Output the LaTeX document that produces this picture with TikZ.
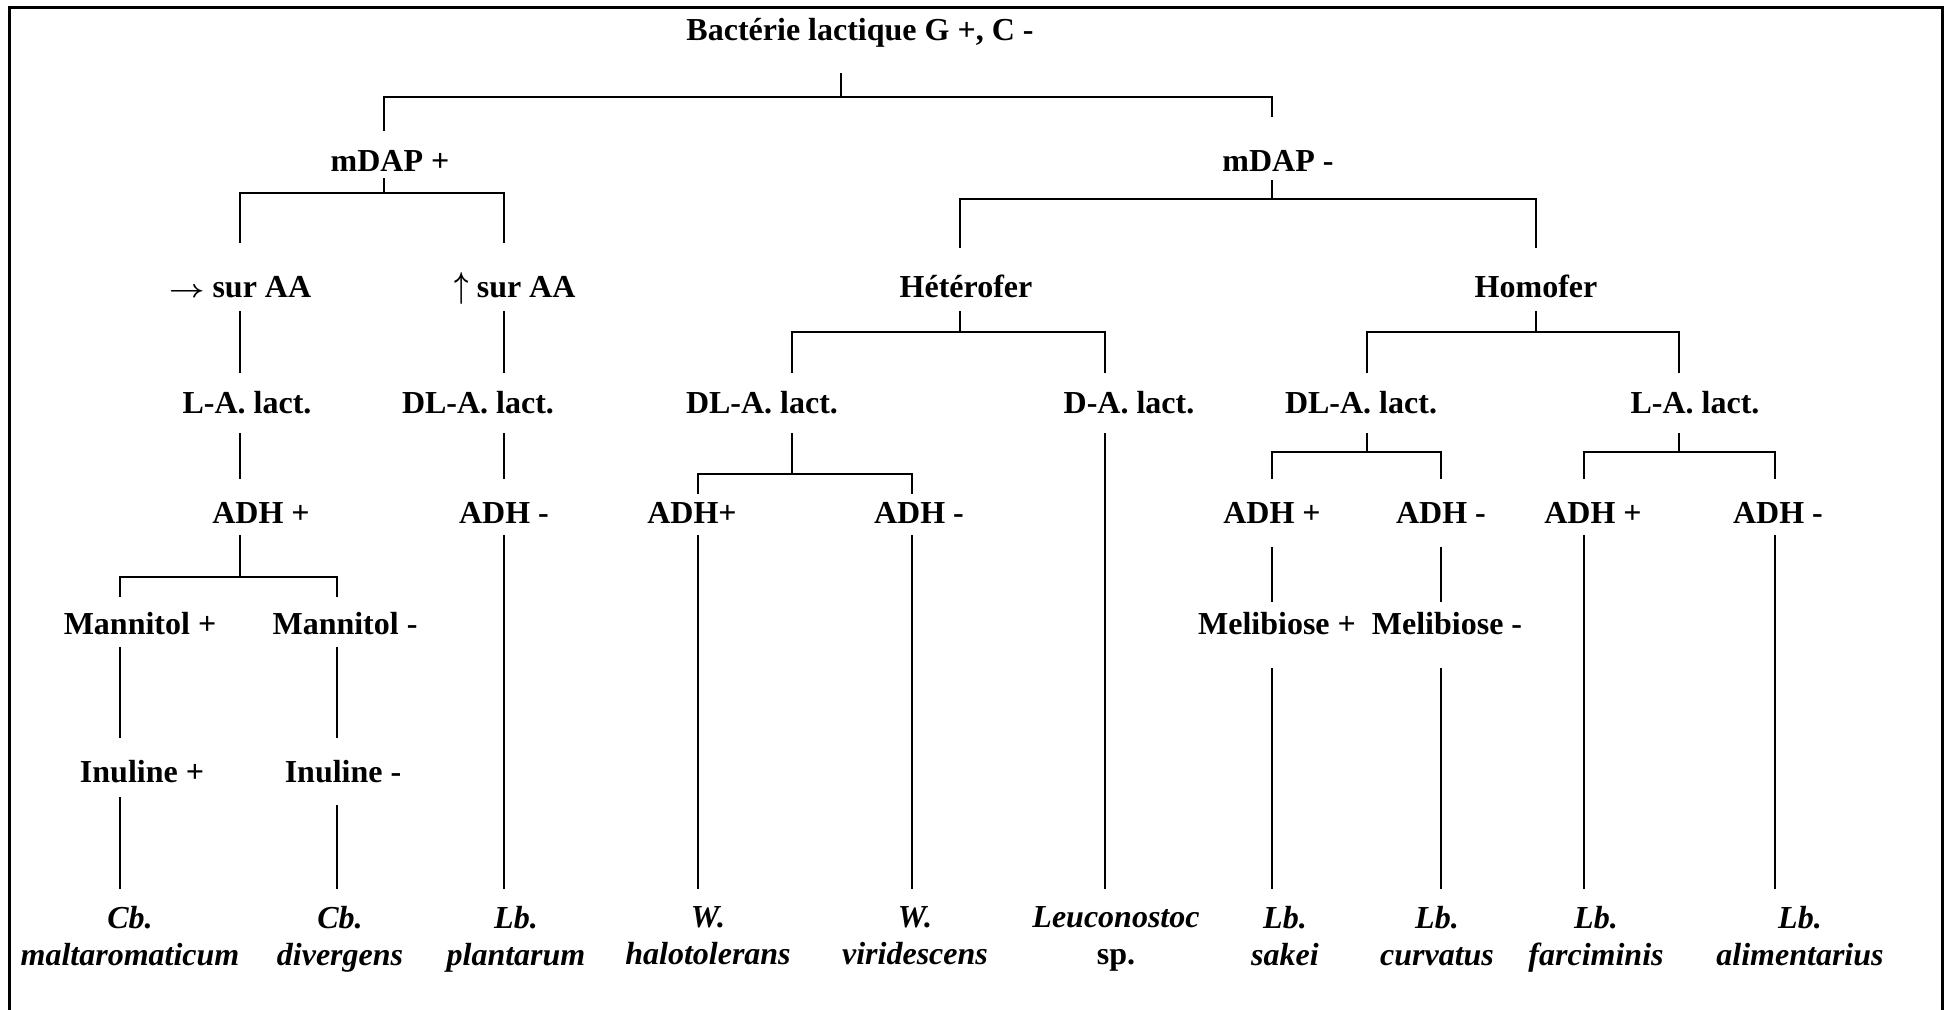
\documentclass[tikz,border=0pt]{standalone}
\usepackage{fontspec}
\setmainfont{Liberation Serif}
\usepackage{tikz}
\usetikzlibrary{calc}
\newcommand{\arrR}{\scalebox{1.25}[1]{\boldmath$\rightarrow$}}
\newcommand{\arrU}{\scalebox{1}[1.45]{\boldmath$\uparrow$}}

\begin{document}
\begin{tikzpicture}[x=1pt, y=-1pt,
	lbl/.style={font=\fontsize{32}{37}\selectfont\bfseries, inner sep=0pt, anchor=base, text height=40pt, text depth=14pt},
	lact/.style={lbl, text depth=20pt},
	adh/.style={lbl, text height=44pt, text depth=12pt},
	spc/.style={font=\fontsize{32}{37}\selectfont\bfseries\itshape, align=center, inner xsep=0pt, inner ysep=17pt, anchor=north},
	cnx/.style={line width=1.5pt},
	frame/.style={line width=3pt}]
			%%%%% START %%%%%
			
			\useasboundingbox (0,0) rectangle (1951,1009);
			\draw[frame] (9,1012) -- (9,7) -- (1942,7) -- (1942,1012);
			
			\node[lbl, text depth=33pt] (root) at (860,40) {Bactérie lactique G +, C -};
			
			\node[lbl, text depth=7pt] (mdapp) at (390,171) {mDAP +};
			\node[lbl, text height=54pt, text depth=9pt] (mdapm) at (1278,171) {mDAP -};
			
			\node[lbl, text height=54pt] (sura) at (240,297) {\arrR\ sur AA};
			\node[lbl, text height=54pt] (surb) at (515,297) {\arrU\ sur AA};
			\node[lbl, text height=49pt] (hetero) at (966,297) {Hétérofer};
			\node[lbl, text height=49pt] (homo) at (1536,297) {Homofer};
			
			\node[lact] (lacl) at (247,413) {L-A. lact.};
			\node[lact] (dlla) at (478,413) {DL-A. lact.};
			\node[lact] (dlhe) at (762,413) {DL-A. lact.};
			\node[lact] (dla) at (1129,413) {D-A. lact.};
			\node[lact] (dlho) at (1361,413) {DL-A. lact.};
			\node[lact] (lho) at (1695,413) {L-A. lact.};
			
			\node[adh] (adha) at (261,523) {ADH +};
			\node[adh] (adhb) at (504,523) {ADH -};
			\node[adh, text height=29pt] (adhc) at (692,523) {ADH+};
			\node[adh, text height=29pt] (adhd) at (919,523) {ADH -};
			\node[adh, text depth=24pt] (adhe) at (1272,523) {ADH +};
			\node[adh, text depth=24pt] (adhf) at (1441,523) {ADH -};
			\node[adh] (adhg) at (1593,523) {ADH +};
			\node[adh] (adhh) at (1778,523) {ADH -};
			
			\node[lbl, text height=37pt, text depth=13pt] (mana) at (140,634) {Mannitol +};
			\node[lbl, text height=37pt, text depth=13pt] (manb) at (345,634) {Mannitol -};
			\node[lbl, text height=32pt, text depth=34pt] (mela) at (1277,634) {Melibiose +};
			\node[lbl, text height=32pt, text depth=34pt] (melb) at (1447,634) {Melibiose -};
			
			\node[lbl, text height=44pt, text depth=15pt] (inua) at (142,782) {Inuline +};
			\node[lbl, text height=44pt, text depth=23pt] (inub) at (343,782) {Inuline -};
			
			\node[spc] (sp1) at (130,889) {Cb.\\maltaromaticum};
			\node[spc] (sp2) at (340,889) {Cb.\\divergens};
			\node[spc] (sp3) at (516,889) {Lb.\\plantarum};
			\node[spc] (sp4) at (708,889) {W.\\halotolerans};
			\node[spc] (sp5) at (915,889) {W.\\viridescens};
			\node[spc] (sp6) at (1116,889) {Leuconostoc\\\upshape sp.};
			\node[spc] (sp7) at (1285,889) {Lb.\\sakei};
			\node[spc] (sp8) at (1437,889) {Lb.\\curvatus};
			\node[spc] (sp9) at (1596,889) {Lb.\\farciminis};
			\node[spc] (sp10) at (1800,889) {Lb.\\alimentarius};
			
			\coordinate (j0) at (841,97);
			\coordinate (j1) at (384,193);
			\coordinate (j2) at (1272,199);
			\coordinate (j3) at (960,332);
			\coordinate (j4) at (1536,332);
			\coordinate (j5) at (792,474);
			\coordinate (j6) at (1367,452);
			\coordinate (j7) at (1679,452);
			\coordinate (j8) at (240,577);
			
			\draw[cnx] (root.south -| j0) -- (j0);
			\draw[cnx] ([xshift=-6pt]mdapp.north) |- (j0) -| ([xshift=-6pt]mdapm.north);
			
			\draw[cnx] (mdapp.south -| j1) -- (j1);
			\draw[cnx] (sura.north) |- (j1) -| ([xshift=-11pt]surb.north);
			\draw[cnx] (mdapm.south -| j2) -- (j2);
			\draw[cnx] ([xshift=-6pt]hetero.north) |- (j2) -| (homo.north);
			
			\draw[cnx] (sura.south) -- ([xshift=-7pt]lacl.north);
			\draw[cnx] ([xshift=-11pt]surb.south) -- ([xshift=26pt]dlla.north);
			\draw[cnx] (hetero.south -| j3) -- (j3);
			\draw[cnx] ([xshift=30pt]dlhe.north) |- (j3) -| ([xshift=-24pt]dla.north);
			\draw[cnx] (homo.south) -- (j4);
			\draw[cnx] ([xshift=6pt]dlho.north) |- (j4) -| ([xshift=-16pt]lho.north);
			
			\draw[cnx] ([xshift=-7pt]lacl.south) -- ([xshift=-21pt]adha.north);
			\draw[cnx] ([xshift=26pt]dlla.south) -- (adhb.north);
			\draw[cnx] (dlhe.south -| j5) -- (j5);
			\draw[cnx] ([xshift=6pt]adhc.north) |- (j5) -| ([xshift=-7pt]adhd.north);
			\draw[cnx] ([xshift=-24pt]dla.south) -- ([xshift=-11pt]sp6.north);
			\draw[cnx] (dlho.south -| j6) -- (j6);
			\draw[cnx] (adhe.north) |- (j6) -| (adhf.north);
			\draw[cnx] (lho.south -| j7) -- (j7);
			\draw[cnx] ([xshift=-9pt]adhg.north) |- (j7) -| ([xshift=-3pt]adhh.north);
			
			\draw[cnx] (adha.south -| j8) -- (j8);
			\draw[cnx] ([xshift=-20pt]mana.north) |- (j8) -| ([xshift=-8pt]manb.north);
			\draw[cnx] ([xshift=-20pt]mana.south) -- ([xshift=-22pt]inua.north);
			\draw[cnx] ([xshift=-8pt]manb.south) -- ([xshift=-6pt]inub.north);
			\draw[cnx] ([xshift=-22pt]inua.south) -- ([xshift=-10pt]sp1.north);
			\draw[cnx] ([xshift=-6pt]inub.south) -- ([xshift=-3pt]sp2.north);
			
			\draw[cnx] (adhb.south) -- ([xshift=-12pt]sp3.north);
			\draw[cnx] ([xshift=6pt]adhc.south) -- ([xshift=-10pt]sp4.north);
			\draw[cnx] ([xshift=-7pt]adhd.south) -- ([xshift=-3pt]sp5.north);
			\draw[cnx] (adhe.south) -- ([xshift=-5pt]mela.north);
			\draw[cnx] ([xshift=-5pt]mela.south) -- ([xshift=-13pt]sp7.north);
			\draw[cnx] (adhf.south) -- ([xshift=-6pt]melb.north);
			\draw[cnx] ([xshift=-6pt]melb.south) -- ([xshift=4pt]sp8.north);
			\draw[cnx] ([xshift=-9pt]adhg.south) -- ([xshift=-12pt]sp9.north);
			\draw[cnx] ([xshift=-3pt]adhh.south) -- ([xshift=-25pt]sp10.north);
			
			%%%%% END %%%%%
\end{tikzpicture}
\end{document}
